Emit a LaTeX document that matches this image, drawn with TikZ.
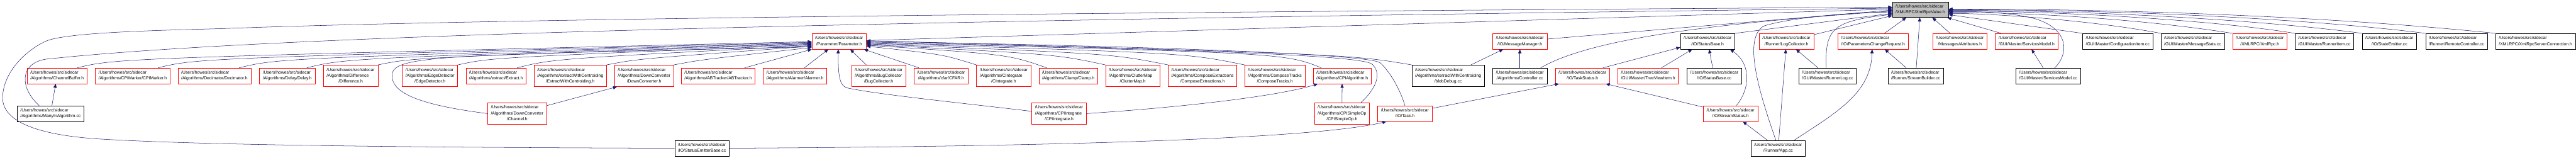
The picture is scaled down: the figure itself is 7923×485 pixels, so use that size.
\documentclass[tikz,border=0pt]{standalone}
\usepackage{fontspec}
\setmainfont{Liberation Sans}
\usetikzlibrary{arrows.meta}
\definecolor{incblue}{HTML}{191970}
\definecolor{rootgray}{HTML}{BFBFBF}
\newcommand{\srcroot}{/Users/howes/src/sidecar}
\newcommand{\fileii}[1]{\begin{tabular}{@{}c@{}}\multicolumn{1}{@{}l@{}}{\srcroot}\\#1\end{tabular}}
\newcommand{\fileiii}[2]{\begin{tabular}{@{}c@{}}\multicolumn{1}{@{}l@{}}{\srcroot}\\\multicolumn{1}{@{}l@{}}{#1}\\#2\end{tabular}}

\begin{document}
\begin{tikzpicture}[
  x=1pt, y=1pt,
  file/.style={draw, line width=1.2pt, inner xsep=10pt, inner ysep=6pt,
               font=\fontsize{13.2}{18}\selectfont},
  trunc/.style={file, draw=red},
  leaf/.style={file, draw=black},
  root/.style={file, draw=black, fill=rootgray},
  inc/.style={draw=incblue, line width=1pt, ->},
  >={Triangle[length=12pt, width=10pt]}
]
\useasboundingbox (0,0) rectangle (7923,485);

\node[root]  (val)      at (5906.5,455.5) {\fileii{/XMLRPC/XmlRpcValue.h}};

\node[trunc] (param)    at (2581,358)   {\fileii{/Parameter/Parameter.h}};
\node[trunc] (msgmgr)   at (4674.5,358) {\fileii{/IO/MessageManager.h}};
\node[leaf]  (statbase) at (5252,358)   {\fileii{/IO/StatusBase.h}};
\node[trunc] (logcol)   at (5494.5,358) {\fileii{/Runner/LogCollector.h}};
\node[trunc] (pcr)      at (5761,358)   {\fileii{/IO/ParametersChangeRequest.h}};
\node[trunc] (attr)     at (6028,358)   {\fileii{/Messages/Attributes.h}};
\node[trunc] (svch)     at (6233,358)   {\fileii{/GUI/Master/ServicesModel.h}};
\node[leaf]  (cfgitem)  at (6513.5,358) {\fileii{/GUI/Master/ConfigurationItem.cc}};
\node[leaf]  (msgstats) at (6744,358)   {\fileii{/GUI/Master/MessageStats.cc}};
\node[trunc] (xmlrpc)   at (6950.5,358) {\fileii{/XMLRPC/XmlRpc.h}};
\node[leaf]  (runitem)  at (7149,358)   {\fileii{/GUI/Master/RunnerItem.cc}};
\node[leaf]  (stateem)  at (7349,358)   {\fileii{/IO/StateEmitter.cc}};
\node[leaf]  (remctl)   at (7555.5,358) {\fileii{/Runner/RemoteController.cc}};
\node[leaf]  (srvconn)  at (7798.5,358) {\fileii{/XMLRPC/XmlRpcServerConnection.h}};

\node[trunc] (chbuf)    at (175.5,252)  {\fileii{/Algorithms/ChannelBuffer.h}};
\node[trunc] (cpimark)  at (408,252)    {\fileii{/Algorithms/CPIMarker/CPIMarker.h}};
\node[trunc] (decim)    at (659.5,252)  {\fileii{/Algorithms/Decimator/Decimator.h}};
\node[trunc] (delay)    at (883.5,252)  {\fileii{/Algorithms/Delay/Delay.h}};
\node[trunc] (diff)     at (1078.5,252) {\fileiii{/Algorithms/Difference}{/Difference.h}};
\node[trunc] (edgedet)  at (1322.5,252) {\fileiii{/Algorithms/EdgeDetector}{/EdgeDetector.h}};
\node[trunc] (extract)  at (1525.5,252) {\fileii{/Algorithms/extract/Extract.h}};
\node[trunc] (extcent)  at (1754,252)   {\fileiii{/Algorithms/extractWithCentroiding}{/ExtractWithCentroiding.h}};
\node[trunc] (downconv) at (1981,252)   {\fileiii{/Algorithms/DownConverter}{/DownConverter.h}};
\node[trunc] (abtrack)  at (2209,252)   {\fileii{/Algorithms/ABTracker/ABTracker.h}};
\node[trunc] (alarmer)  at (2445,252)   {\fileii{/Algorithms/Alarmer/Alarmer.h}};
\node[trunc] (bugcol)   at (2702.5,252) {\fileiii{/Algorithms/BugCollector}{/BugCollector.h}};
\node[trunc] (cfar)     at (2894.5,252) {\fileii{/Algorithms/cfar/CFAR.h}};
\node[trunc] (cinteg)   at (3087,252)   {\fileiii{/Algorithms/CIntegrate}{/CIntegrate.h}};
\node[trunc] (clamp)    at (3285.5,252) {\fileii{/Algorithms/Clamp/Clamp.h}};
\node[trunc] (clutter)  at (3484,252)   {\fileiii{/Algorithms/ClutterMap}{/ClutterMap.h}};
\node[trunc] (compext)  at (3698.5,252) {\fileiii{/Algorithms/ComposeExtractions}{/ComposeExtractions.h}};
\node[trunc] (comptrk)  at (3921,252)   {\fileiii{/Algorithms/ComposeTracks}{/ComposeTracks.h}};
\node[trunc] (cpialg)   at (4128,252)   {\fileii{/Algorithms/CPIAlgorithm.h}};
\node[leaf]  (blob)     at (4454,252)   {\fileiii{/Algorithms/extractWithCentroiding}{/blobDebug.cc}};
\node[leaf]  (ctrl)     at (4674.5,252) {\fileii{/Algorithms/Controller.cc}};
\node[trunc] (taskstat) at (4867,252)   {\fileii{/IO/TaskStatus.h}};
\node[trunc] (treeview) at (5069,252)   {\fileii{/GUI/Master/TreeViewItem.h}};
\node[leaf]  (statbasecc) at (5272.5,252) {\fileii{/IO/StatusBase.cc}};
\node[leaf]  (runlog)   at (5621,252)   {\fileii{/GUI/Master/RunnerLog.cc}};
\node[leaf]  (strbuild) at (5892,252)   {\fileii{/Runner/StreamBuilder.cc}};
\node[leaf]  (svccc)    at (6299.5,252) {\fileii{/GUI/Master/ServicesModel.cc}};

\node[leaf]  (manyin)   at (155.5,136)  {\fileii{/Algorithms/ManyInAlgorithm.cc}};
\node[trunc] (channel)  at (1590.5,136) {\fileiii{/Algorithms/DownConverter}{/Channel.h}};
\node[trunc] (cpiint)   at (3257.5,136) {\fileiii{/Algorithms/CPIIntegrate}{/CPIIntegrate.h}};
\node[trunc] (cpisimp)  at (4127.5,136) {\fileiii{/Algorithms/CPISimpleOp}{/CPISimpleOp.h}};
\node[trunc] (task)     at (4321,136)   {\fileii{/IO/Task.h}};
\node[trunc] (strstat)  at (5322.5,136) {\fileii{/IO/StreamStatus.h}};

\node[leaf]  (emitbase) at (2159,29.5)  {\fileii{/IO/StatusEmitterBase.cc}};
\node[leaf]  (app)      at (5469,29.5)  {\fileii{/Runner/App.cc}};

% into Parameter.h
\draw[inc] ([xshift=62pt]chbuf.north) .. controls (358,306) .. ([yshift=-1pt]param.west);
\draw[inc] ([xshift=78pt]cpimark.north) .. controls (606,306) .. ([yshift=-3pt]param.west);
\draw[inc] ([xshift=76pt]decim.north) .. controls (856,306) .. ([yshift=-5pt]param.west);
\draw[inc] ([xshift=60pt]delay.north) .. controls (1064,306) .. ([yshift=-7pt]param.west);
\draw[inc] (diff.north east) .. controls (1270,308) .. ([yshift=-9pt]param.west);
\draw[inc] (edgedet.north east) .. controls (1510,308) .. ([yshift=-11pt]param.west);
\draw[inc] ([xshift=65pt]extract.north) .. controls (1700,304) .. ([yshift=-13pt]param.west);
\draw[inc] (extcent.north east) .. controls (1960,304) .. ([yshift=-15pt]param.west);
\draw[inc] (channel.west) .. controls (1270,165) and (1205,205) .. (1206,253)
  .. controls (1206,315) and (1350,315) .. ([yshift=-17pt]param.west);
\draw[inc] (downconv.north east) .. controls (2160,302) .. ([yshift=-19pt]param.west);
\draw[inc] ([xshift=81pt]abtrack.north) -- (param.south west);
\draw[inc] ([xshift=29pt]alarmer.north) -- ([xshift=51pt]param.south west);
\draw[inc] ([yshift=7pt]cpiint.west) .. controls (2900,175) and (2700,195) .. (2605,215)
  .. controls (2580,222) and (2578,260) .. ([xshift=-3pt]param.south);
\draw[inc] ([xshift=-38pt]bugcol.north) -- ([xshift=34pt]param.south);
\draw[inc] ([xshift=-68pt]cfar.north) -- ([xshift=-8pt]param.south east);
\draw[inc] (cinteg.north west) .. controls (2900,318) .. ([yshift=-15pt]param.east);
\draw[inc] ([xshift=-66pt]clamp.north) .. controls (3100,318) .. ([yshift=-12pt]param.east);
\draw[inc] (clutter.north west) .. controls (3250,318) .. ([yshift=-10pt]param.east);
\draw[inc] (compext.north west) .. controls (3420,320) .. ([yshift=-8pt]param.east);
\draw[inc] (comptrk.north west) .. controls (3650,322) .. ([yshift=-6pt]param.east);
\draw[inc] ([xshift=-64pt]cpialg.north) .. controls (3950,322) .. ([yshift=-4pt]param.east);
\draw[inc] ([xshift=58pt]cpisimp.north) .. controls (4235,215) and (4250,260) .. (4220,288)
  .. controls (4190,316) and (3600,335) .. ([yshift=-2pt]param.east);
\draw[inc] (task.north) .. controls (4310,200) and (4280,260) .. (4245,292)
  .. controls (4215,315) and (3700,340) .. (param.east);
\draw[inc] (blob.north west) .. controls (4150,318) .. ([yshift=2pt]param.east);

% lower levels
\draw[inc] (manyin) -- (chbuf);
\draw[inc] (channel) -- ([xshift=8pt]downconv.south west);
\draw[inc] (cpisimp) -- (cpialg);
\draw[inc] (cpiint.east) .. controls (3700,160) and (3950,195) .. ([xshift=15pt]cpialg.south west);
\draw[inc] (emitbase.east) .. controls (3300,35) and (4050,60) .. ([xshift=-57pt]task.south);
\draw[inc] (task) -- ([xshift=12pt]taskstat.south west);
\draw[inc] ([xshift=70pt]blob.north) -- ([xshift=33pt]msgmgr.south west);
\draw[inc] (ctrl) -- (msgmgr);
\draw[inc] ([xshift=63pt]taskstat.north) -- ([yshift=6pt]statbase.south west);
\draw[inc] ([xshift=41pt]treeview.north) -- ([xshift=37pt]statbase.south west);
\draw[inc] (statbasecc) -- (statbase);
\draw[inc] ([xshift=18pt]strstat.north) .. controls (5385,215) and (5385,290) .. ([xshift=69pt]statbase.south);
\draw[inc] (strstat) -- ([xshift=72pt]taskstat.south);
\draw[inc] ([xshift=-33pt]app.north) -- ([xshift=38pt]strstat.south);
\draw[inc] (app) -- (logcol);
\draw[inc] ([xshift=49pt]app.north) .. controls (5650,140) and (5755,200) .. ([xshift=-3pt]pcr.south);
\draw[inc] (runlog) -- (logcol);
\draw[inc] ([xshift=-29pt]strbuild.north) -- ([xshift=36pt]pcr.south);
\draw[inc] (svccc) -- (svch);

% into XmlRpcValue.h
\draw[inc] (emitbase.west) .. controls (1200,32) and (600,40) .. (304,58)
  .. controls (150,68) and (8,100) .. (8,185)
  .. controls (10,265) and (80,330) .. (140,358)
  .. controls (200,386) and (500,392) .. (680,397)
  .. controls (1500,428) and (3500,448) .. ([yshift=7.5pt]val.west);
\draw[inc] ([xshift=-35pt]manyin.north) .. controls (60,215) and (60,290) .. (140,303)
  .. controls (900,385) and (3000,425) .. ([yshift=4.5pt]val.west);
\draw[inc] (param) -- ([yshift=1.5pt]val.west);
\draw[inc] (msgmgr) -- ([yshift=-1.5pt]val.west);
\draw[inc] ([xshift=64pt]ctrl.north) .. controls (4900,370) and (5300,415) .. ([yshift=-4.5pt]val.west);
\draw[inc] ([xshift=-7pt]app.north) .. controls (5400,230) and (5365,370) .. (5425,405)
  .. controls (5485,425) and (5650,446) .. ([yshift=-7.5pt]val.west);
\draw[inc] (statbase.north east) -- ([yshift=-11.5pt]val.west);
\draw[inc] ([xshift=-4pt]runlog.north) .. controls (5612,400) and (5640,420) .. ([yshift=-14.5pt]val.west);
\draw[inc] (logcol) -- ([yshift=-18.5pt]val.west);
\draw[inc] ([xshift=35pt]pcr.north) -- ([xshift=-43.5pt]val.south);
\draw[inc] (strbuild) -- (val);
\draw[inc] ([xshift=-30pt]attr.north) -- ([xshift=-50pt]val.south east);
\draw[inc] ([xshift=-78pt]svch.north) -- ([xshift=-4pt]val.south east);
\draw[inc] ([xshift=20pt]svccc.north) .. controls (6365,320) and (6365,400) .. (6250,430)
  .. controls (6150,452) and (6050,449) .. ([yshift=-6.5pt]val.east);
\draw[inc] (cfgitem.north west) -- ([yshift=-15.5pt]val.east);
\draw[inc] (msgstats.north west) .. controls (6450,420) and (6150,443) .. ([yshift=-11.5pt]val.east);
\draw[inc] (xmlrpc.north west) .. controls (6600,425) and (6250,447) .. ([yshift=-8.5pt]val.east);
\draw[inc] (runitem.north west) .. controls (6800,425) and (6300,452) .. ([yshift=-4.5pt]val.east);
\draw[inc] (stateem.north west) .. controls (6950,425) and (6400,454) .. ([yshift=-2.5pt]val.east);
\draw[inc] (remctl.north west) .. controls (7100,428) and (6500,456) .. ([yshift=-0.5pt]val.east);
\draw[inc] (srvconn.north west) .. controls (7200,432) and (6550,458) .. ([yshift=1.5pt]val.east);
\end{tikzpicture}
\end{document}
